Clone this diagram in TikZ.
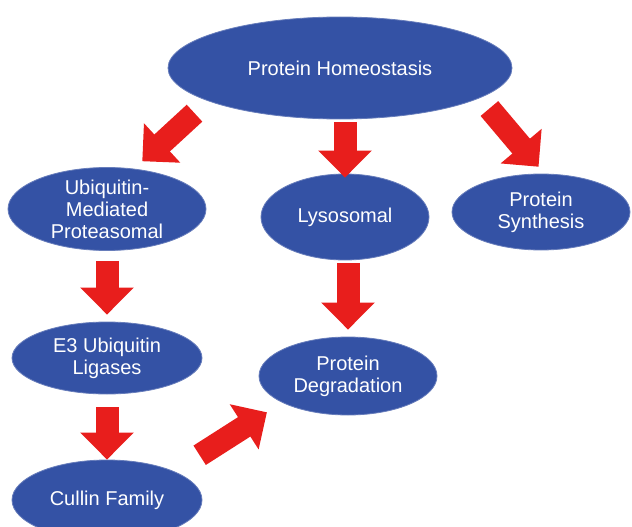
\documentclass[tikz,border=0pt]{standalone}
\usepackage{fontspec}
\setmainfont{Liberation Sans}
\usetikzlibrary{shapes.geometric,arrows.meta}
\definecolor{ovalblue}{RGB}{52,82,165}
\definecolor{arrowred}{RGB}{232,30,28}
\begin{document}
\begin{tikzpicture}[x=1pt,y=-1pt,
	oval/.style={ellipse,fill=ovalblue,draw=ovalblue!75!white,line width=0.8pt,text=white,inner sep=0pt,align=center,font=\fontsize{20}{22}\selectfont},
	bigarrow/.style={arrowred,line width=23pt,-{Triangle[length=27pt,width=52pt]}}]
	\clip (0,0) rectangle (632,527);
	% ovals
	\node[oval,minimum width=344pt,minimum height=102pt] (homeo) at (340,68) {Protein Homeostasis};
	\node[oval,minimum width=198pt,minimum height=82pt] (ubi) at (107,209) {Ubiquitin-\\Mediated\\Proteasomal};
	\node[oval,minimum width=168pt,minimum height=86pt] (lyso) at (345,217) {Lysosomal};
	\node[oval,minimum width=178pt,minimum height=76pt] (synth) at (541,212) {Protein\\Synthesis};
	\node[oval,minimum width=190pt,minimum height=72pt] (ligase) at (107,358) {E3 Ubiquitin\\Ligases};
	\node[oval,minimum width=178pt,minimum height=78pt] (degr) at (348,376) {Protein\\Degradation};
	\node[oval,minimum width=190pt,minimum height=80pt] (cullin) at (107,500) {Cullin Family};
	% arrows
	\draw[bigarrow,shorten <=18pt,shorten >=11pt] (homeo.194)--(ubi.56);
	\draw[bigarrow,shorten <=3pt,shorten >=-4pt] (lyso.north |- homeo.south)--(lyso.north);
	\draw[bigarrow,shorten <=14pt,shorten >=9pt] (homeo.348)--(synth.85);
	\draw[bigarrow,shorten <=10pt,shorten >=7pt] (ubi.south)--(ligase.north);
	\draw[bigarrow,shorten <=3pt,shorten >=7pt] (degr.north |- lyso.south)--(degr.north);
	\draw[bigarrow,shorten <=13pt,shorten >=0pt] (ligase.south)--(cullin.north);
	\draw[bigarrow,shorten <=30pt,shorten >=18pt] (cullin.23)--(degr.202);
\end{tikzpicture}
\end{document}
